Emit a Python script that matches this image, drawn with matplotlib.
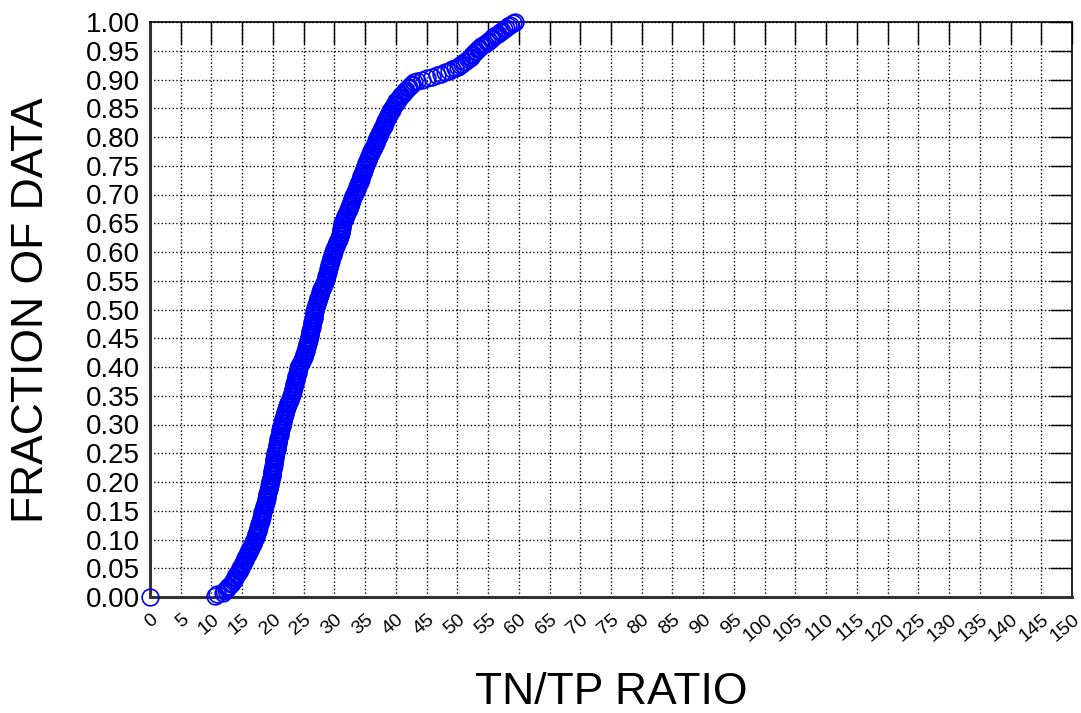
import matplotlib.pyplot as plt
import numpy as np

plt.rcParams['font.family'] = ['Liberation Sans', 'DejaVu Sans']

# sorted TN/TP ratios (first point is the 0 at the origin)
tn_tp_ratio = [
    0.0,
    10.6, 10.9, 11.8, 12.1, 12.3, 12.5, 12.7, 12.9, 13.1, 13.3, 13.5, 13.6, 13.8, 13.9, 14.0, 14.2, 14.3, 14.4, 14.6, 14.7,
    14.8, 14.9, 15.1, 15.2, 15.3, 15.4, 15.5, 15.6, 15.8, 15.9, 16.0, 16.1, 16.2, 16.3, 16.5, 16.6, 16.7, 16.8, 16.9, 17.0,
    17.1, 17.2, 17.2, 17.3, 17.4, 17.5, 17.5, 17.6, 17.7, 17.8, 17.8, 17.9, 18.0, 18.0, 18.1, 18.2, 18.2, 18.3, 18.3, 18.4,
    18.5, 18.5, 18.6, 18.7, 18.7, 18.8, 18.8, 18.9, 19.0, 19.0, 19.1, 19.1, 19.2, 19.2, 19.3, 19.4, 19.4, 19.5, 19.5, 19.6,
    19.6, 19.7, 19.7, 19.8, 19.8, 19.9, 19.9, 19.9, 20.0, 20.0, 20.0, 20.1, 20.1, 20.2, 20.2, 20.2, 20.3, 20.3, 20.4, 20.4,
    20.5, 20.5, 20.6, 20.6, 20.7, 20.7, 20.8, 20.8, 20.9, 20.9, 21.0, 21.0, 21.1, 21.1, 21.2, 21.2, 21.3, 21.3, 21.4, 21.5,
    21.5, 21.6, 21.6, 21.7, 21.8, 21.8, 21.9, 22.0, 22.0, 22.1, 22.2, 22.3, 22.3, 22.4, 22.5, 22.6, 22.7, 22.8, 22.9, 23.0,
    23.1, 23.1, 23.2, 23.3, 23.3, 23.4, 23.4, 23.5, 23.6, 23.6, 23.7, 23.7, 23.8, 23.8, 23.9, 24.0, 24.0, 24.1, 24.1, 24.2,
    24.3, 24.4, 24.5, 24.7, 24.8, 24.9, 25.0, 25.1, 25.1, 25.2, 25.3, 25.3, 25.4, 25.5, 25.5, 25.6, 25.7, 25.7, 25.8, 25.9,
    25.9, 26.0, 26.0, 26.1, 26.1, 26.2, 26.2, 26.3, 26.3, 26.4, 26.4, 26.5, 26.5, 26.6, 26.6, 26.6, 26.7, 26.7, 26.8, 26.8,
    26.9, 27.0, 27.0, 27.1, 27.2, 27.3, 27.3, 27.4, 27.5, 27.6, 27.6, 27.7, 27.8, 27.9, 28.0, 28.1, 28.2, 28.3, 28.4, 28.5,
    28.6, 28.6, 28.7, 28.8, 28.8, 28.9, 28.9, 29.0, 29.1, 29.1, 29.2, 29.3, 29.3, 29.4, 29.5, 29.5, 29.6, 29.7, 29.7, 29.8,
    29.9, 30.0, 30.1, 30.2, 30.3, 30.4, 30.5, 30.6, 30.7, 30.8, 30.9, 30.9, 31.0, 31.0, 31.1, 31.1, 31.2, 31.2, 31.3, 31.3,
    31.4, 31.5, 31.6, 31.7, 31.8, 31.9, 32.0, 32.1, 32.2, 32.3, 32.4, 32.5, 32.6, 32.7, 32.7, 32.8, 32.9, 33.0, 33.1, 33.2,
    33.3, 33.4, 33.5, 33.6, 33.7, 33.8, 33.9, 34.0, 34.1, 34.2, 34.3, 34.3, 34.4, 34.5, 34.6, 34.7, 34.8, 34.8, 34.9, 35.0,
    35.1, 35.2, 35.3, 35.4, 35.5, 35.6, 35.7, 35.8, 35.9, 36.0, 36.1, 36.2, 36.4, 36.5, 36.6, 36.7, 36.8, 36.9, 37.0, 37.1,
    37.2, 37.3, 37.4, 37.5, 37.6, 37.7, 37.9, 38.0, 38.1, 38.2, 38.3, 38.4, 38.6, 38.7, 38.8, 38.9, 39.0, 39.1, 39.3, 39.4,
    39.5, 39.7, 39.8, 40.0, 40.1, 40.3, 40.5, 40.7, 40.9, 41.1, 41.3, 41.5, 41.7, 41.9, 42.1, 42.4, 42.7, 43.0, 43.5, 44.2,
    45.0, 45.9, 46.7, 47.4, 48.0, 48.6, 49.1, 49.6, 50.1, 50.5, 50.8, 51.1, 51.4, 51.7, 52.0, 52.2, 52.4, 52.6, 52.8, 53.0,
    53.3, 53.6, 53.9, 54.2, 54.5, 54.8, 55.1, 55.4, 55.7, 56.0, 56.3, 56.6, 56.9, 57.3, 57.6, 57.9, 58.3, 58.6, 59.0, 59.4,
]
fraction = np.arange(len(tn_tp_ratio)) / (len(tn_tp_ratio) - 1)

x_ticks = list(range(0, 151, 5))
y_ticks = [i / 20 for i in range(21)]

fig = plt.figure(figsize=(10.81, 7.13), dpi=100)
ax = fig.add_axes([150 / 1081, 1 - 597 / 713, 922 / 1081, 575 / 713])

ax.plot(tn_tp_ratio, fraction, 'o', color='blue', fillstyle='none',
        markersize=12, markeredgewidth=1.2, clip_on=False, zorder=3)

ax.set_xlim(0, 150)
ax.set_ylim(0, 1)
ax.set_xticks(x_ticks)
ax.set_yticks(y_ticks)
ax.set_yticklabels(['%.2f' % v for v in y_ticks], fontsize=20)
ax.set_xticklabels([str(v) for v in x_ticks], fontsize=14, rotation=40,
                   ha='right', rotation_mode='anchor')

ax.tick_params(axis='both', direction='in', length=16, width=1,
               top=True, right=True, left=False, bottom=False,
               labelleft=True, labelbottom=True, colors='black')
ax.tick_params(axis='y', pad=7)
ax.tick_params(axis='x', pad=10)

ax.grid(True, linestyle=':', color='black', linewidth=1)
ax.set_axisbelow(True)

for side in ['top', 'right']:
    ax.spines[side].set_linewidth(1.2)
for side in ['left', 'bottom']:
    ax.spines[side].set_linewidth(2.2)
    ax.spines[side].set_color('#333333')

fig.text(32 / 1081, 1 - 310 / 713, 'FRACTION OF DATA', rotation=90,
         ha='center', va='center', fontsize=32)
fig.text(611 / 1081, 1 - 693 / 713, 'TN/TP RATIO',
         ha='center', va='center', fontsize=32)

fig.savefig('out.png', dpi=100)
